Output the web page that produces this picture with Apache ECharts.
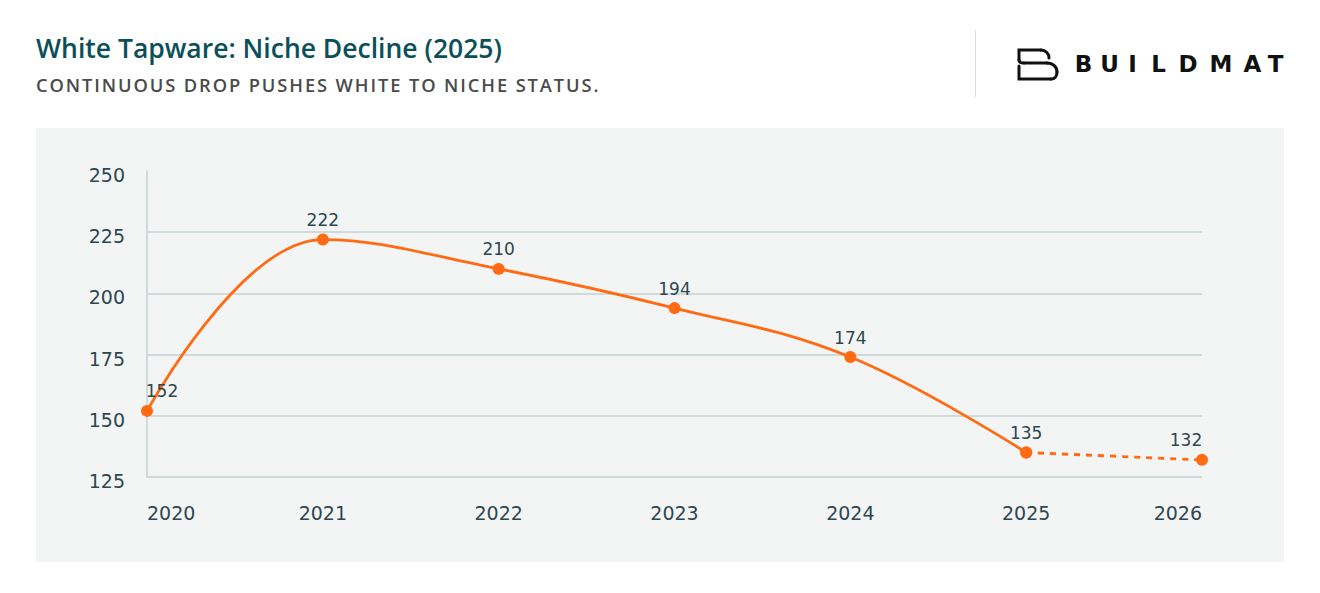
<!DOCTYPE html>
<html>
<head>
<meta charset="utf-8">
<script src="https://cdn.jsdelivr.net/npm/echarts@6/dist/echarts.min.js"></script>
<style>
html,body{margin:0;padding:0;background:#fff;}
#chart{width:1320px;height:593px;}
#chart svg text[style*="18.3px"]{letter-spacing:1.9px;}
</style>
</head>
<body>
<div id="chart"></div>
<script>
const categories = ['2020','2021','2022','2023','2024','2025','2026'];
const actualValues = [152, 222, 210, 194, 174, 135, null];
const forecastValues = [null, null, null, null, null, 135, 132];
const yTicks = {min: 125, max: 250, interval: 25};
const logoLetters = ['B','U','I','L','D','M','A','T'];

const chart = echarts.init(document.getElementById('chart'), null, {renderer:'svg'});
const orange = '#ff6a13';
const textDark = '#2d4750';
const numFont = 'DejaVu Sans';
const letterX = [1083.5, 1109.5, 1132.5, 1158.5, 1188, 1221, 1252.5, 1275.5];
const ink = {stroke:'#111', lineWidth:3, fill:null, lineCap:'round'};

const graphics = [
  {type:'rect', shape:{x:36, y:128, width:1248, height:434}, style:{fill:'#f3f5f5'}, z:-10, silent:true},
  {type:'line', shape:{x1:975.5, y1:30, x2:975.5, y2:97}, style:{stroke:'#dddddd', lineWidth:1}},
  // logo icon
  {type:'polyline', shape:{points:[[1019,60],[1019,50],[1041,50]]}, style:ink},
  {type:'bezierCurve', shape:{x1:1041, y1:50, cpx1:1046, cpy1:50, cpx2:1049, cpy2:54, x2:1049, y2:58}, style:ink},
  {type:'bezierCurve', shape:{x1:1019, y1:60, cpx1:1019, cpy1:62, cpx2:1021, cpy2:63, x2:1024, y2:63}, style:ink},
  {type:'line', shape:{x1:1024, y1:63, x2:1047, y2:63}, style:ink},
  {type:'bezierCurve', shape:{x1:1047, y1:63, cpx1:1053, cpy1:63, cpx2:1057, cpy2:67, x2:1057, y2:72}, style:ink},
  {type:'bezierCurve', shape:{x1:1057, y1:72, cpx1:1057, cpy1:76, cpx2:1055, cpy2:79, x2:1051, y2:79}, style:ink},
  {type:'polyline', shape:{points:[[1051,79],[1019,79],[1019,66]]}, style:ink}
];
logoLetters.forEach((l, i) => {
  graphics.push({type:'text', x:letterX[i], y:63.5, style:{text:l, fill:'#111', font:'bold 23px "DejaVu Sans"', textAlign:'center', textVerticalAlign:'middle'}});
});

const labelBase = {show:true, position:'top', distance:5, color:textDark, fontFamily:numFont, fontSize:17};
const actualData = actualValues.map((v, i) => i === 0 ? {value:v, label:{offset:[15,0]}} : v);
const forecastData = forecastValues.map((v, i) => i === 6 ? {value:v, label:{offset:[-16,0]}} : v);

chart.setOption({
  backgroundColor:'#ffffff',
  animation:false,
  title:[
    {text:'White Tapware: Niche Decline (2025)', left:31, top:29, textStyle:{fontFamily:'Open Sans', fontSize:26.5, fontWeight:600, color:'#0b5058'}},
    {text:'CONTINUOUS DROP PUSHES WHITE TO NICHE STATUS.', left:31, top:70, textStyle:{fontFamily:'Open Sans', fontSize:18.3, fontWeight:600, color:'#4a4a4a'}}
  ],
  graphic:graphics,
  grid:{left:147, right:118, top:171, bottom:116, containLabel:false},
  xAxis:{
    type:'category', data:categories, boundaryGap:false,
    axisLine:{show:false}, axisTick:{show:false},
    axisLabel:{color:textDark, fontFamily:numFont, fontSize:19, margin:26, alignMinLabel:'left', alignMaxLabel:'right'},
    splitLine:{show:false}
  },
  yAxis:{
    type:'value', min:yTicks.min, max:yTicks.max, interval:yTicks.interval,
    axisLine:{show:true, lineStyle:{color:'#c5d0d2', width:1.5}}, axisTick:{show:false},
    axisLabel:{color:textDark, fontFamily:numFont, fontSize:19, margin:22, verticalAlign:'top', lineHeight:8},
    splitLine:{show:true, showMaxLine:false, lineStyle:{color:'#c5d0d2', width:1.5}}
  },
  series:[
    {type:'line', data:actualData, smooth:0.4, symbol:'circle', symbolSize:12,
     lineStyle:{color:orange, width:2.8}, itemStyle:{color:orange},
     label:labelBase},
    {type:'line', data:forecastData, smooth:0.4, symbol:'circle', symbolSize:12,
     lineStyle:{color:orange, width:2.8, type:[6,6]}, itemStyle:{color:orange},
     label:Object.assign({}, labelBase, {formatter: p => p.dataIndex === 6 ? p.value : ''})}
  ]
});
</script>
</body>
</html>
